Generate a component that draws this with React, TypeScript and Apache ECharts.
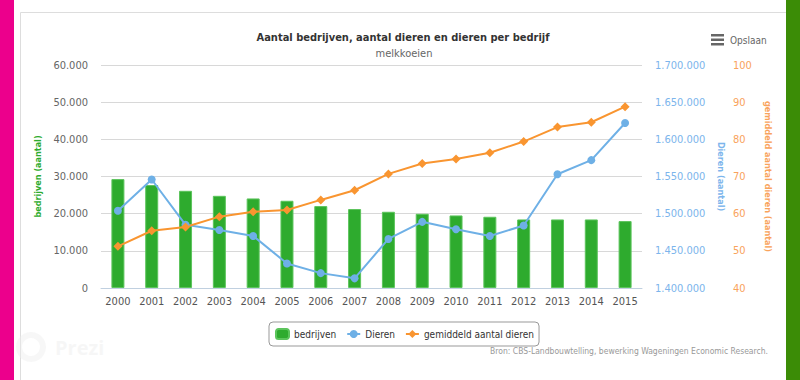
import React, { useEffect, useRef } from "react";
import * as echarts from "echarts";

const years = ["2000","2001","2002","2003","2004","2005","2006","2007","2008","2009","2010","2011","2012","2013","2014","2015"];
const bedrijven = [29300, 27700, 26150, 24800, 24100, 23470, 22040, 21240, 20510, 19970, 19520, 19170, 18450, 18450, 18450, 18000];
const dieren = [1504000, 1546000, 1485000, 1478000, 1470000, 1433000, 1420000, 1413000, 1466000, 1489000, 1479000, 1470000, 1484000, 1553000, 1572000, 1622000];
const gemiddeld = [51.2, 55.4, 56.4, 59.2, 60.5, 61.0, 63.7, 66.3, 70.7, 73.5, 74.7, 76.4, 79.4, 83.3, 84.6, 88.8];

const FONT = "'DejaVu Sans Condensed', 'DejaVu Sans', sans-serif";
const GREEN = "#2eab2e";
const BLUE = "#6eb0e6";
const ORANGE = "#f99530";
const ORANGE_LBL = "#f9a35c";
const BLUE_LBL = "#7cb5ec";

const fmt = (v: number) => String(v).replace(/\B(?=(\d{3})+(?!\d))/g, ".");

export default function App() {
  const ref = useRef<HTMLDivElement>(null);
  useEffect(() => {
    if (!ref.current) return;
    const chart = echarts.init(ref.current, null, { renderer: "svg" });
    chart.setOption({
      animation: false,
      backgroundColor: "#ffffff",
      textStyle: { fontFamily: FONT },
      title: [
        {
          text: "Aantal bedrijven, aantal dieren en dieren per bedrijf",
          left: 398,
          top: 27,
          textAlign: "center",
          textStyle: { fontFamily: FONT, fontSize: 11, fontWeight: "bold", color: "#333333" },
        },
        {
          text: "melkkoeien",
          left: 399,
          top: 43,
          textAlign: "center",
          textStyle: { fontFamily: FONT, fontSize: 11, fontWeight: "normal", color: "#666666" },
        },
      ],
      grid: { left: 101, right: 158, top: 65, bottom: 92, containLabel: false },
      legend: {
        left: 269,
        top: 322,
        padding: [6, 5, 6, 6],
        itemGap: 10,
        itemWidth: 13,
        itemHeight: 10,
        borderColor: "#999999",
        borderWidth: 1,
        borderRadius: 4,
        textStyle: { fontFamily: FONT, fontSize: 10, color: "#333333" },
        data: ["bedrijven", "Dieren", "gemiddeld aantal dieren"],
      },
      xAxis: {
        type: "category",
        data: years,
        axisLine: { lineStyle: { color: "#c0d0e0" } },
        axisTick: { length: 5, lineStyle: { color: "#c0d0e0" } },
        axisLabel: { color: "#555555", fontSize: 11, margin: 8, fontFamily: FONT },
      },
      yAxis: [
        {
          type: "value",
          min: 0,
          max: 60000,
          interval: 10000,
          position: "left",
          name: "bedrijven (aantal)",
          nameLocation: "middle",
          nameRotate: 90,
          nameGap: 57,
          nameTextStyle: { color: GREEN, fontWeight: "bold", fontSize: 9, fontFamily: FONT },
          axisLine: { show: false },
          axisTick: { show: false },
          axisLabel: { color: "#666666", fontSize: 11, margin: 13, formatter: fmt, fontFamily: FONT },
          splitLine: { lineStyle: { color: "#d8d8d8" } },
        },
        {
          type: "value",
          min: 1400000,
          max: 1700000,
          interval: 50000,
          position: "right",
          name: "Dieren (aantal)",
          nameLocation: "middle",
          nameRotate: -90,
          nameGap: 71,
          nameTextStyle: { color: BLUE_LBL, fontWeight: "bold", fontSize: 9, fontFamily: FONT },
          axisLine: { show: false },
          axisTick: { show: false },
          axisLabel: { color: BLUE_LBL, fontSize: 11, margin: 13, formatter: fmt, fontFamily: FONT },
          splitLine: { show: false },
        },
        {
          type: "value",
          min: 40,
          max: 100,
          interval: 10,
          position: "right",
          offset: 78,
          name: "gemiddeld aantal dieren (aantal)",
          nameLocation: "middle",
          nameRotate: -90,
          nameGap: 43,
          nameTextStyle: { color: ORANGE_LBL, fontWeight: "bold", fontSize: 9, fontFamily: FONT },
          axisLine: { show: false },
          axisTick: { show: false },
          axisLabel: { color: ORANGE_LBL, fontSize: 11, margin: 13, fontFamily: FONT },
          splitLine: { show: false },
        },
      ],
      series: [
        {
          name: "bedrijven",
          type: "bar",
          yAxisIndex: 0,
          data: bedrijven,
          barWidth: 13,
          itemStyle: { color: GREEN, borderColor: "#5cc45c", borderWidth: 1 },
        },
        {
          name: "Dieren",
          type: "line",
          yAxisIndex: 1,
          data: dieren,
          symbol: "circle",
          symbolSize: 8,
          lineStyle: { color: BLUE, width: 2 },
          itemStyle: { color: BLUE },
        },
        {
          name: "gemiddeld aantal dieren",
          type: "line",
          yAxisIndex: 2,
          data: gemiddeld,
          symbol: "diamond",
          symbolSize: 9,
          lineStyle: { color: ORANGE, width: 2 },
          itemStyle: { color: ORANGE },
        },
      ],
      graphic: [
        { type: "rect", shape: { x: 0, y: 0, width: 14, height: 380 }, style: { fill: "#ec008c" } },
        { type: "rect", shape: { x: 786, y: 0, width: 14, height: 380 }, style: { fill: "#3b8c06" } },
        { type: "line", shape: { x1: 20.5, y1: 12.5, x2: 20.5, y2: 380 }, style: { stroke: "#dddddd", lineWidth: 1 } },
        { type: "line", shape: { x1: 20.5, y1: 12.5, x2: 786, y2: 12.5 }, style: { stroke: "#dddddd", lineWidth: 1 } },
        { type: "rect", shape: { x: 711, y: 34, width: 13, height: 2.5 }, style: { fill: "#666666" } },
        { type: "rect", shape: { x: 711, y: 38.5, width: 13, height: 2.5 }, style: { fill: "#666666" } },
        { type: "rect", shape: { x: 711, y: 43, width: 13, height: 2.5 }, style: { fill: "#666666" } },
        {
          type: "text",
          x: 730,
          y: 40,
          style: { text: "Opslaan", fill: "#666666", fontSize: 10, fontFamily: FONT, verticalAlign: "middle" },
        },
        {
          type: "text",
          x: 768,
          y: 351,
          style: {
            text: "Bron: CBS-Landbouwtelling, bewerking Wageningen Economic Research.",
            fill: "#999999",
            fontSize: 8.5,
            fontFamily: FONT,
            align: "right",
            verticalAlign: "middle",
          },
        },
        { type: "ring", shape: { cx: 31, cy: 347, r: 15, r0: 9 }, style: { fill: "rgba(238,238,238,0.45)" } },
        {
          type: "text",
          x: 55,
          y: 347,
          style: { text: "Prezi", fill: "rgba(238,238,238,0.5)", fontSize: 20, fontWeight: "bold", fontFamily: "'Open Sans', sans-serif", verticalAlign: "middle" },
        },
      ],
    });
    return () => chart.dispose();
  }, []);
  return (
    <div
      ref={ref}
      style={{ position: "fixed", left: 0, top: 0, width: 800, height: 380 }}
    />
  );
}
